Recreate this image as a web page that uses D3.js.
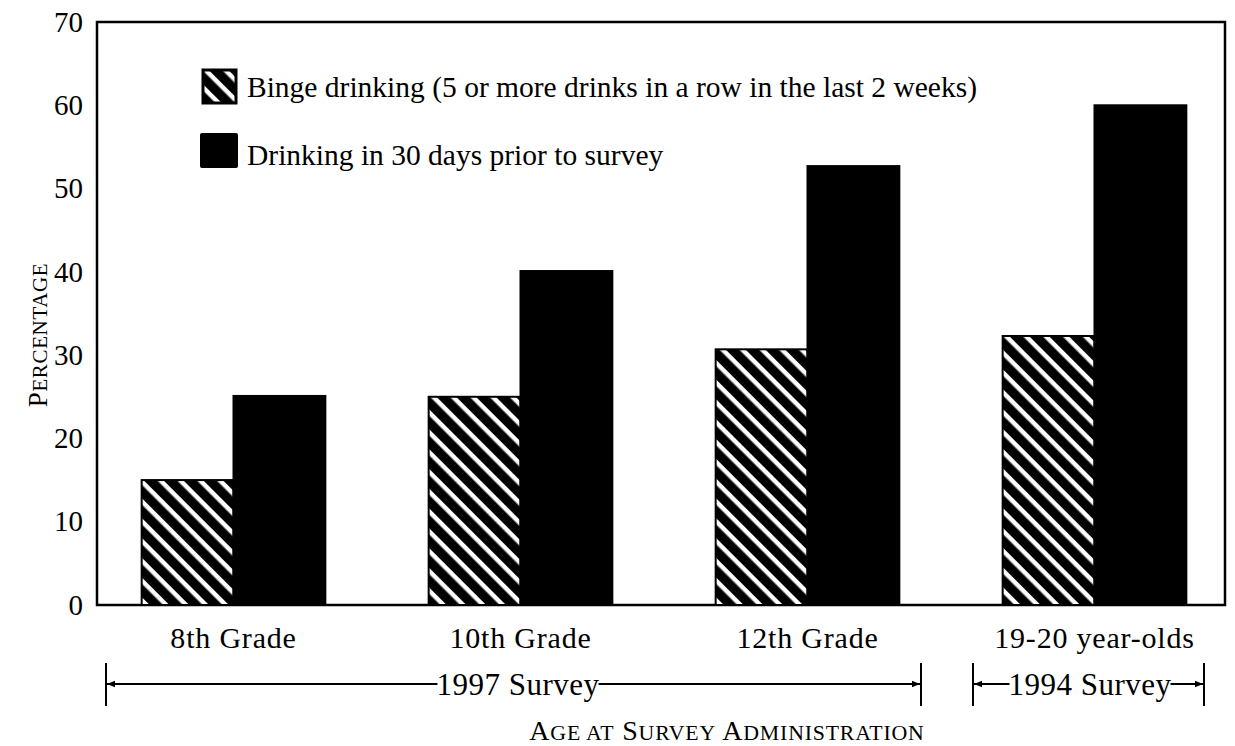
<!DOCTYPE html>
<html><head><meta charset="utf-8">
<script src="https://cdn.jsdelivr.net/npm/d3@7"></script>
<style>body{margin:0;background:#fff}svg{display:block}text{font-family:"Liberation Serif","DejaVu Serif",serif;fill:#000}</style>
</head><body>
<svg id="c" width="1235" height="746"></svg>
<script>
const categories = ["8th Grade","10th Grade","12th Grade","19-20 year-olds"];
const series = ["Binge drinking (5 or more drinks in a row in the last 2 weeks)","Drinking in 30 days prior to survey"];
const bingeValues = [15, 25, 30.7, 32.3];
const drinkingValues = [25.1, 40.1, 52.7, 60];
const yTicks = [0,10,20,30,40,50,60,70];
const surveys = ["1997 Survey", "1994 Survey"];

const svg = d3.select("#c");
const frame = {l:97, t:22, r:1225, b:605};
const y = d3.scaleLinear().domain([0,70]).range([frame.b, frame.t]);
const x = d3.scaleBand().domain(categories).range([90, 1238]).paddingInner(0.36).paddingOuter(0.18);
const xs = d3.scaleBand().domain([0,1]).range([0, x.bandwidth()]);

const defs = svg.append("defs");
const pat = defs.append("pattern").attr("id","hatch").attr("patternUnits","userSpaceOnUse")
  .attr("width",14).attr("height",14).attr("patternTransform","rotate(-45)");
pat.append("rect").attr("width",14).attr("height",14).attr("fill","#fff");
pat.append("rect").attr("x",0).attr("width",9.5).attr("height",14).attr("fill","#000");

// frame
svg.append("rect").attr("x",frame.l).attr("y",frame.t).attr("width",frame.r-frame.l).attr("height",frame.b-frame.t)
  .attr("fill","none").attr("stroke","#000").attr("stroke-width",2.5);

// y axis
const ya = svg.append("g").attr("transform",`translate(${frame.l},0)`)
  .call(d3.axisLeft(y).tickValues(yTicks).tickSize(0).tickPadding(14));
ya.select(".domain").remove();
ya.selectAll("text").style("font-size","29px").attr("fill","#000");

// bars
const vals = [bingeValues, drinkingValues];
const g = svg.append("g");
categories.forEach((c,i)=>{
  [0,1].forEach(s=>{
    const v = vals[s][i];
    g.append("rect").attr("x", x(c)+xs(s)).attr("y", y(v)).attr("width", xs.bandwidth()).attr("height", y(0)-y(v))
      .attr("fill", s===0 ? "url(#hatch)" : "#000")
      .attr("stroke","#000").attr("stroke-width",2);
  });
});

// x category labels
const xa = svg.append("g").attr("transform",`translate(0,${frame.b})`)
  .call(d3.axisBottom(x).tickSize(0).tickPadding(0));
xa.select(".domain").remove();
xa.selectAll("text").attr("dy",null).attr("y",43).style("font-size","30px").style("letter-spacing","0.8px").attr("fill","#000");

// survey brackets
const by = 684;
defs.append("marker").attr("id","arr").attr("viewBox","0 0 10 10").attr("refX",10).attr("refY",5)
  .attr("markerWidth",11).attr("markerHeight",8).attr("markerUnits","userSpaceOnUse").attr("orient","auto")
  .append("path").attr("d","M0,1L10,5L0,9Z").attr("fill","#000");
const bracketEnds = [[106,921,518],[973,1204,1090]];
surveys.forEach((label,k)=>{
  const [a,b,cx] = bracketEnds[k];
  const t = svg.append("text").attr("x", cx).attr("y", 695).attr("text-anchor","middle")
    .style("font-size","31px").style("letter-spacing","0.5px").text(label);
  const bb = t.node().getBBox();
  [a,b].forEach(px=>svg.append("line").attr("x1",px).attr("x2",px).attr("y1",663).attr("y2",706).attr("stroke","#000").attr("stroke-width",2));
  svg.append("line").attr("x1",bb.x+1).attr("x2",a+1).attr("y1",by).attr("y2",by).attr("stroke","#000").attr("stroke-width",1.8).attr("marker-end","url(#arr)");
  svg.append("line").attr("x1",bb.x+bb.width-1).attr("x2",b-1).attr("y1",by).attr("y2",by).attr("stroke","#000").attr("stroke-width",1.8).attr("marker-end","url(#arr)");
});

// small caps helper
function smallCaps(sel, str, size){
  str.split(" ").forEach((w,i)=>{
    const first = w[0];
    const big = first === first.toUpperCase();
    if (big) {
      sel.append("tspan").style("font-size", size+"px").text((i?" ":"")+first);
      sel.append("tspan").style("font-size", (size*0.78)+"px").text(w.slice(1).toUpperCase());
    } else {
      sel.append("tspan").style("font-size", (size*0.78)+"px").text((i?" ":"")+w.toUpperCase());
    }
  });
}
const xt = svg.append("text").attr("x",727).attr("y",740).attr("text-anchor","middle").style("letter-spacing","0.8px");
smallCaps(xt, "Age at Survey Administration", 28);
const yt = svg.append("text").attr("transform","translate(47,335) rotate(-90)").attr("text-anchor","middle").style("letter-spacing","0.6px");
smallCaps(yt, "Percentage", 27);

// legend
const lg = svg.append("g");
lg.append("rect").attr("x",203).attr("y",70).attr("width",33).attr("height",33).attr("fill","url(#hatch)").attr("stroke","#000").attr("stroke-width",3);
lg.append("text").attr("x",247).attr("y",97).style("font-size","29.5px").text(series[0]);
lg.append("rect").attr("x",200).attr("y",133).attr("width",38).attr("height",35).attr("fill","#000").attr("rx",2);
lg.append("text").attr("x",247).attr("y",165).style("font-size","29.5px").text(series[1]);
</script>
</body></html>
